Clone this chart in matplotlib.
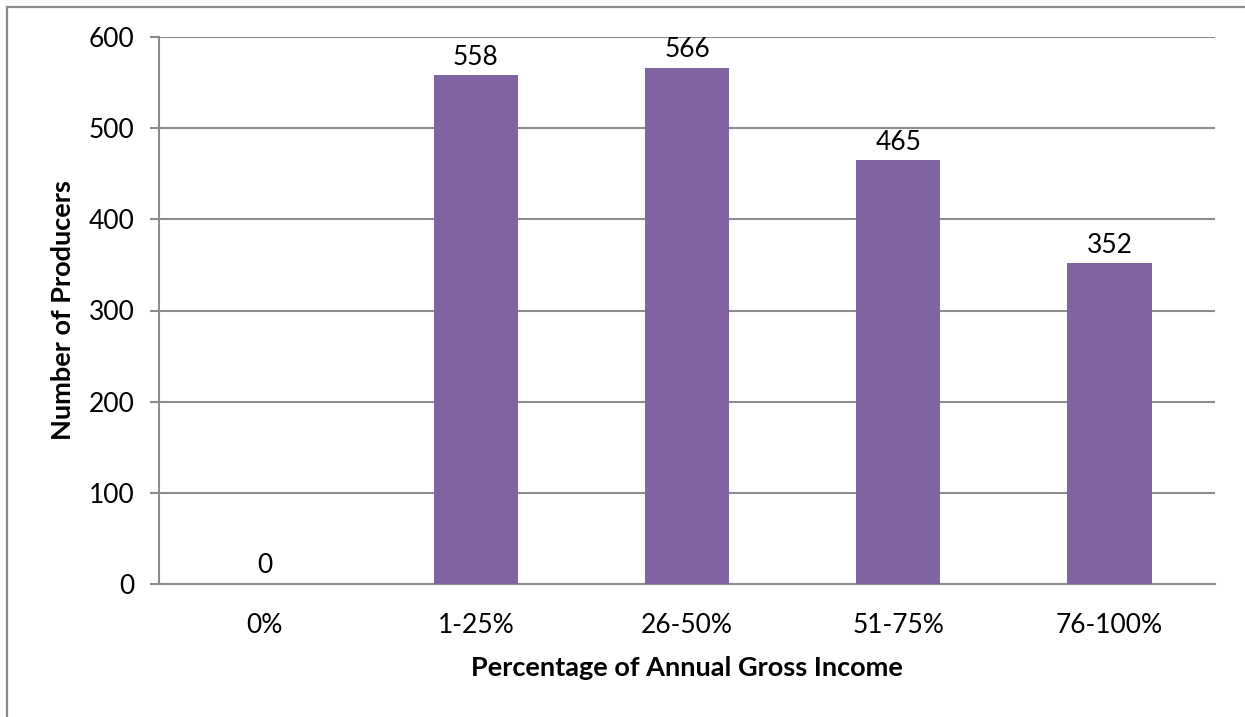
import matplotlib
matplotlib.use("Agg")
import matplotlib.pyplot as plt
from matplotlib.lines import Line2D

categories = ["0%", "1-25%", "26-50%", "51-75%", "76-100%"]
producers = [0, 558, 566, 465, 352]
y_ticks = [0, 100, 200, 300, 400, 500, 600]

BAR_COLOR = "#8064A2"
GRID_COLOR = "#8C8C8C"
FONT = "Lato"

plt.rcParams["font.family"] = [FONT, "DejaVu Sans"]

fig = plt.figure(figsize=(12.45, 7.17), dpi=100)
ax = fig.add_axes([159 / 1245, 133 / 717, (1215 - 159) / 1245, (584 - 37) / 717])

x = range(len(categories))
bars = ax.bar(x, producers, width=0.40, color=BAR_COLOR, zorder=3)

for xi, v in zip(x, producers):
    ax.annotate(str(v), (xi, v), xytext=(0, 4), textcoords="offset points",
                ha="center", va="bottom", fontsize=19, color="black")

ax.set_xlim(-0.5, len(categories) - 0.5)
ax.set_ylim(0, 600)
ax.set_yticks(y_ticks)
ax.set_xticks(list(x))
ax.set_xticklabels(categories)

ax.yaxis.grid(True, color=GRID_COLOR, linewidth=1.5, zorder=0)
ax.set_axisbelow(True)

for side in ("top", "right"):
    ax.spines[side].set_visible(False)
for side in ("left", "bottom"):
    ax.spines[side].set_color(GRID_COLOR)
    ax.spines[side].set_linewidth(1.5)

ax.tick_params(axis="y", length=6.5, width=1.5, color=GRID_COLOR, pad=11,
               labelsize=19)
ax.tick_params(axis="x", length=0, pad=21, labelsize=19)

ax.set_xlabel("Percentage of Annual Gross Income", fontsize=19.5, fontweight="bold",
              labelpad=13)
ax.set_ylabel("Number of Producers", fontsize=19.5, fontweight="bold", labelpad=10)

# chart frame along the left and top edges
fig.add_artist(Line2D([7 / 1245, 7 / 1245], [0, 1 - 7 / 717], transform=fig.transFigure,
                      color=GRID_COLOR, linewidth=1.6))
fig.add_artist(Line2D([7 / 1245, 1], [1 - 7 / 717, 1 - 7 / 717], transform=fig.transFigure,
                      color=GRID_COLOR, linewidth=1.6))

fig.savefig("out.png", dpi=100, facecolor="white")
